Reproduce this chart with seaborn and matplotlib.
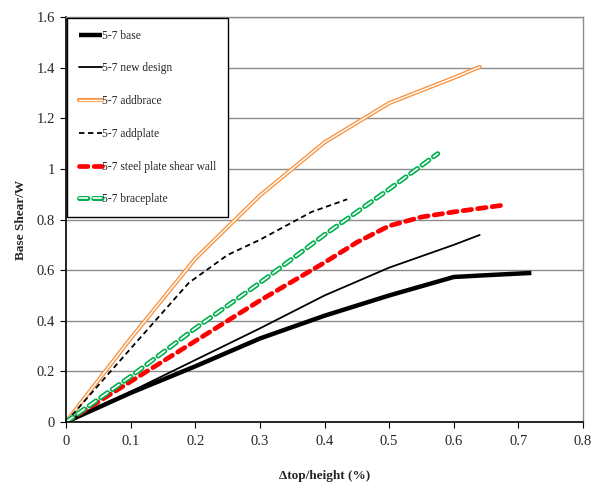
import matplotlib
matplotlib.use("Agg")
import matplotlib.pyplot as plt
import matplotlib.patheffects as pe
import seaborn as sns

# data
base_x = [0, 0.1, 0.2, 0.3, 0.4, 0.5, 0.6, 0.65, 0.72]
base_y = [0, 0.115, 0.22, 0.33, 0.42, 0.50, 0.573, 0.58, 0.589]

newdesign_x = [0, 0.1, 0.2, 0.3, 0.4, 0.5, 0.6, 0.64]
newdesign_y = [0, 0.12, 0.245, 0.37, 0.50, 0.61, 0.70, 0.739]

addbrace_x = [0, 0.1, 0.2, 0.3, 0.4, 0.5, 0.6, 0.64]
addbrace_y = [0, 0.33, 0.645, 0.895, 1.105, 1.26, 1.36, 1.403]

addplate_x = [0, 0.1, 0.19, 0.25, 0.3, 0.38, 0.435]
addplate_y = [0, 0.29, 0.55, 0.66, 0.72, 0.83, 0.88]

spsw_x = [0, 0.1, 0.2, 0.3, 0.4, 0.45, 0.5, 0.55, 0.6, 0.68]
spsw_y = [0, 0.16, 0.32, 0.48, 0.63, 0.71, 0.775, 0.81, 0.83, 0.858]

braceplate_x = [0, 0.1, 0.2, 0.3, 0.4, 0.5, 0.575]
braceplate_y = [0, 0.18, 0.37, 0.55, 0.74, 0.92, 1.06]

sns.set_style("white")
plt.rcParams['font.family'] = ['Liberation Serif', 'DejaVu Serif']

fig = plt.figure(figsize=(5.93, 4.91), dpi=100)
ax = fig.add_axes([0.1113, 0.1405, 0.872, 0.8248])

for yv in [0.2, 0.4, 0.6, 0.8, 1.0, 1.2, 1.4, 1.6]:
    ax.axhline(yv, color='#8c8c8c', lw=1.0, zorder=0)

sns.lineplot(x=base_x, y=base_y, ax=ax, color='black', linewidth=3.2,
             label='5-7 base', sort=False, solid_capstyle='butt')
sns.lineplot(x=newdesign_x, y=newdesign_y, ax=ax, color='black', linewidth=1.3,
             label='5-7 new design', sort=False)
sns.lineplot(x=addbrace_x, y=addbrace_y, ax=ax, color='white', linewidth=1.0,
             label='5-7 addbrace', sort=False,
             path_effects=[pe.Stroke(linewidth=3.0, foreground='#f79646'), pe.Normal()])
sns.lineplot(x=addplate_x, y=addplate_y, ax=ax, color='black', linewidth=1.3,
             linestyle=(0, (3, 2)), label='5-7 addplate', sort=False)
sns.lineplot(x=spsw_x, y=spsw_y, ax=ax, color='#ff0000', linewidth=3.4,
             linestyle=(0, (1.8, 1.3)), dash_capstyle='round',
             label='5-7 steel plate shear wall', sort=False)
sns.lineplot(x=braceplate_x, y=braceplate_y, ax=ax, color='white', linewidth=1.2,
             linestyle=(0, (5, 3.5)), dash_capstyle='round',
             label='5-7 braceplate', sort=False,
             path_effects=[pe.Stroke(linewidth=3.6, foreground='#00b050'), pe.Normal()])

ax.set_xlim(0, 0.8)
ax.set_ylim(0, 1.6)
ax.set_xticks([0, 0.1, 0.2, 0.3, 0.4, 0.5, 0.6, 0.7, 0.8])
ax.set_xticklabels(['0', '0.1', '0.2', '0.3', '0.4', '0.5', '0.6', '0.7', '0.8'])
ax.set_yticks([0, 0.2, 0.4, 0.6, 0.8, 1.0, 1.2, 1.4, 1.6])
ax.set_yticklabels(['0', '0.2', '0.4', '0.6', '0.8', '1', '1.2', '1.4', '1.6'])
ax.tick_params(axis='both', direction='out', length=4, width=0.8, color='black',
               labelsize=10.5, pad=4, left=True, bottom=True)
ax.tick_params(axis='x', pad=5)

for s in ['left', 'bottom']:
    ax.spines[s].set_color('black')
    ax.spines[s].set_linewidth(1.2)
for s in ['top', 'right']:
    ax.spines[s].set_color('#8c8c8c')
    ax.spines[s].set_linewidth(1.0)

ax.set_xlabel('Δtop/height (%)', fontsize=9.5, fontweight='bold', labelpad=16)
ax.set_ylabel('Base Shear/W', fontsize=9.5, fontweight='bold', labelpad=7)

leg = ax.legend(loc='upper left', bbox_to_anchor=(0.0, 1.0), borderaxespad=0.1,
                fontsize=8.3, frameon=True, fancybox=False, edgecolor='black',
                framealpha=1, labelspacing=1.8, handlelength=2.0,
                handletextpad=0.0, borderpad=1.0)
leg.get_frame().set_linewidth(1.0)

fig.savefig('out.png', dpi=100)
